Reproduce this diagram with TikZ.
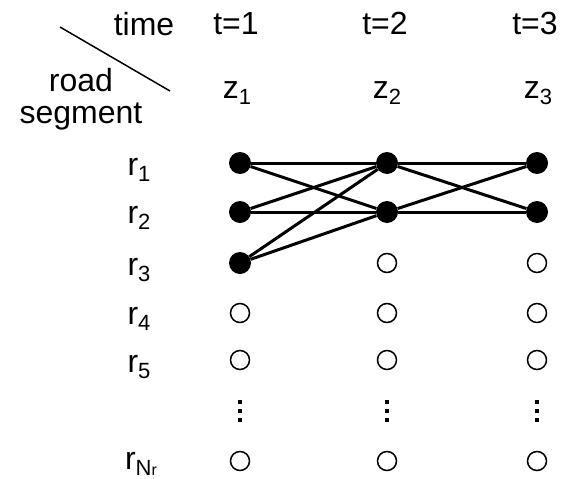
\documentclass[tikz,border=0pt]{standalone}
\usepackage{fontspec}
\setmainfont{Liberation Sans}
\newcommand\lsub[1]{\raisebox{-0.2em}{\fontsize{22}{22}\selectfont #1}}
\begin{document}
\begin{tikzpicture}[x=1pt,y=-1pt,
 lbl/.style={font=\fontsize{32}{38}\selectfont, inner sep=0pt, anchor=base},
 full/.style={circle,fill=black,minimum size=22pt,inner sep=0pt},
 hollow/.style={circle,draw=black,line width=1.5pt,minimum size=19pt,inner sep=0pt},
 link/.style={line width=3pt},
 dotsq/.style={rectangle,fill=black,minimum size=3.5pt,inner sep=0pt}]
\useasboundingbox (0,0) rectangle (562,479);
% header
\node[lbl] (time) at (144,35) {time};
\node[lbl] (road) at (81,91) {road};
\node[lbl] (seg) at (81,123) {segment};
\coordinate (d1) at (60,27);
\coordinate (d2) at (170,91);
\draw[line width=1.5pt] (d1) -- (d2);
\node[lbl] (t1) at (236,34) {t=1};
\node[lbl] (t2) at (385,34) {t=2};
\node[lbl] (t3) at (535,34) {t=3};
\node[lbl] (z1) at (237,98) {z\lsub{1}};
\node[lbl] (z2) at (387,98) {z\lsub{2}};
\node[lbl] (z3) at (538,98) {z\lsub{3}};
% row labels
\node[lbl] (l1) at (139,175) {r\lsub{1}};
\node[lbl] (l2) at (139,223) {r\lsub{2}};
\node[lbl] (l3) at (139,275) {r\lsub{3}};
\node[lbl] (l4) at (139,324) {r\lsub{4}};
\node[lbl] (l5) at (139,372) {r\lsub{5}};
\node[lbl] (lN) at (141,469) {r\lsub{N{\fontsize{16}{16}\selectfont r}}};
% nodes
\node[full] (a1) at (240,163) {};
\node[full] (a2) at (240,212) {};
\node[full] (a3) at (240,263) {};
\node[hollow] (a4) at (240,313) {};
\node[hollow] (a5) at (240,360) {};
\node[hollow] (aN) at (240,461) {};
\node[full] (b1) at (387,163) {};
\node[full] (b2) at (387,212) {};
\node[hollow] (b3) at (387,263) {};
\node[hollow] (b4) at (387,313) {};
\node[hollow] (b5) at (387,360) {};
\node[hollow] (bN) at (387,461) {};
\node[full] (c1) at (537,163) {};
\node[full] (c2) at (537,212) {};
\node[hollow] (c3) at (537,263) {};
\node[hollow] (c4) at (537,313) {};
\node[hollow] (c5) at (537,360) {};
\node[hollow] (cN) at (537,461) {};
% vertical dots
\foreach \c/\x in {a/240,b/387,c/537}{
  \node[dotsq] (\c d1) at (\x,402) {};
  \node[dotsq] (\c d2) at (\x,411) {};
  \node[dotsq] (\c d3) at (\x,420) {};
}
% links
\draw[link] (a1) -- (b1);
\draw[link] (a1) -- (b2);
\draw[link] (a2) -- (b1);
\draw[link] (a2) -- (b2);
\draw[link] (a3) -- (b1);
\draw[link] (a3) -- (b2);
\draw[link] (b1) -- (c1);
\draw[link] (b1) -- (c2);
\draw[link] (b2) -- (c1);
\draw[link] (b2) -- (c2);
\end{tikzpicture}
\end{document}
